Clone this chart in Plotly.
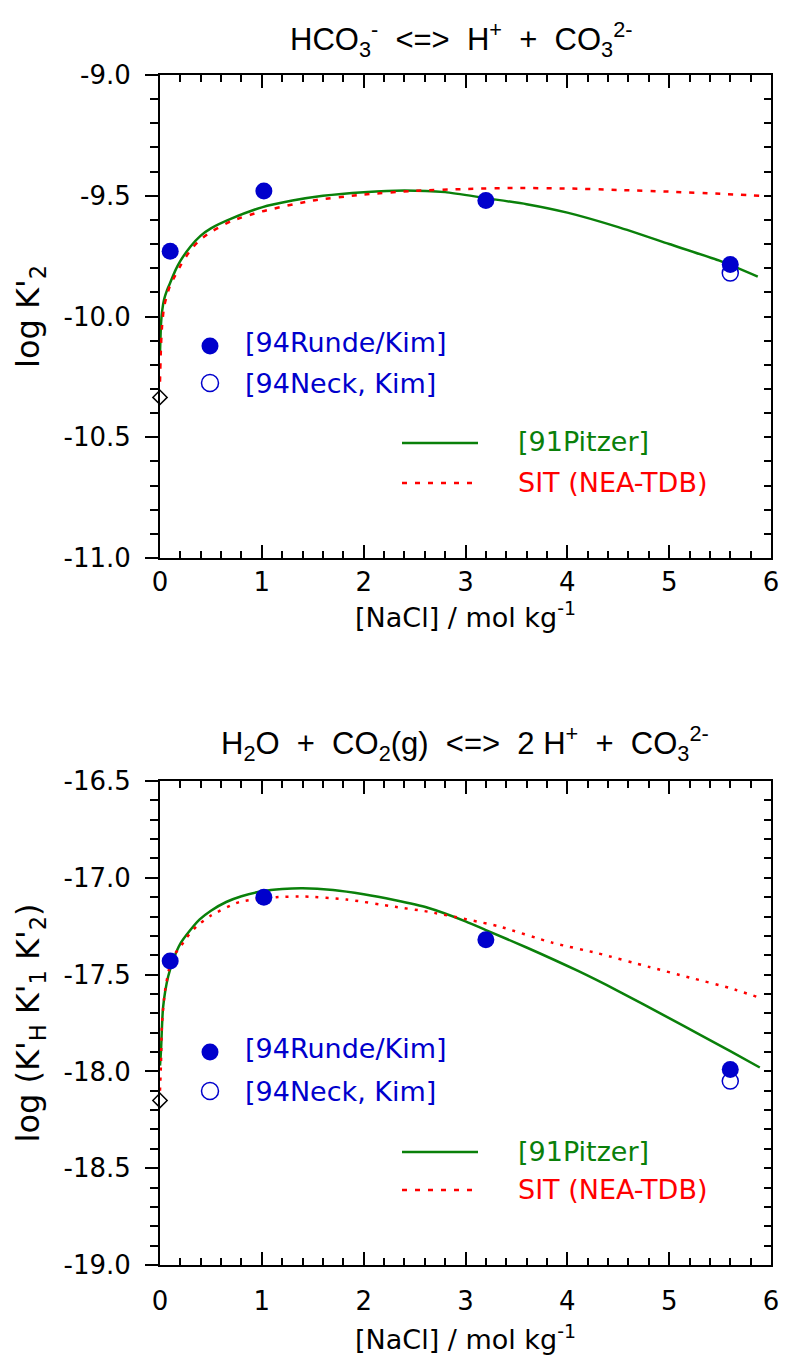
import plotly.graph_objects as go

W, H = 785, 1365

# ---------------- data : top panel  (log K'2) ----------------
nacl_runde = [0.10, 1.02, 3.20, 5.60]
logk2_runde = [-9.73, -9.48, -9.52, -9.785]
nacl_neck = [5.60]
logk2_neck = [-9.82]
nacl_zero = [0.0]
logk2_zero = [-10.335]

pitzer_top_x = [0.0, 0.01, 0.02, 0.04, 0.07, 0.1, 0.15, 0.2, 0.3, 0.4, 0.5, 0.7, 1.0, 1.3, 1.6,
                2.0, 2.4, 2.8, 3.2, 3.6, 4.0, 4.5, 5.0, 5.5, 5.87]
pitzer_top_y = [-10.15, -10.03, -9.98, -9.93, -9.89, -9.86, -9.81, -9.77, -9.71, -9.665, -9.635,
                -9.595, -9.548, -9.52, -9.50, -9.485, -9.478, -9.485, -9.51, -9.535, -9.57,
                -9.63, -9.70, -9.77, -9.835]
sit_top_x = [0.0, 0.01, 0.02, 0.04, 0.07, 0.1, 0.15, 0.2, 0.3, 0.4, 0.5, 0.7, 1.0, 1.5, 2.0,
             2.5, 3.0, 3.5, 4.0, 4.5, 5.0, 5.5, 5.9]
sit_top_y = [-10.27, -10.12, -10.04, -9.96, -9.91, -9.87, -9.83, -9.79, -9.725, -9.68, -9.65,
             -9.605, -9.565, -9.52, -9.495, -9.48, -9.472, -9.468, -9.47, -9.476, -9.483,
             -9.492, -9.50]

# ---------------- data : bottom panel  (log K'H K'1 K'2) ----------------
logkk_runde = [-17.43, -17.10, -17.32, -17.99]
logkk_neck = [-18.05]
logkk_zero = [-18.15]

pitzer_bot_x = [0.0, 0.01, 0.03, 0.08, 0.14, 0.2, 0.29, 0.39, 0.5, 0.65, 0.8, 1.0, 1.2, 1.4, 1.7,
                2.0, 2.3, 2.63, 3.0, 3.2, 3.6, 4.1, 4.5, 5.0, 5.3, 5.6, 5.89]
pitzer_bot_y = [-17.97, -17.89, -17.67, -17.51, -17.41, -17.34, -17.275, -17.215, -17.17, -17.125,
                -17.095, -17.07, -17.058, -17.054, -17.063, -17.085, -17.115, -17.155, -17.225,
                -17.27, -17.36, -17.48, -17.585, -17.725, -17.81, -17.895, -17.98]
sit_bot_x = [0.0, 0.01, 0.02, 0.05, 0.12, 0.19, 0.26, 0.36, 0.5, 0.78, 1.14, 1.42, 1.83, 2.31,
             2.63, 3.32, 3.85, 4.3, 4.8, 5.2, 5.6, 5.89]
sit_bot_y = [-18.10, -17.95, -17.75, -17.58, -17.41, -17.365, -17.31, -17.25, -17.195, -17.125,
             -17.10, -17.097, -17.112, -17.15, -17.175, -17.25, -17.335, -17.39, -17.46, -17.515,
             -17.57, -17.62]

# ---------------- ticks / labels ----------------
x_tickvals = [0, 1, 2, 3, 4, 5, 6]
x_ticktext = ["0", "1", "2", "3", "4", "5", "6"]
y_top_tickvals = [-11.0, -10.5, -10.0, -9.5, -9.0]
y_top_ticktext = ["-11.0", "-10.5", "-10.0", "-9.5", "-9.0"]
y_bot_tickvals = [-19.0, -18.5, -18.0, -17.5, -17.0, -16.5]
y_bot_ticktext = ["-19.0", "-18.5", "-18.0", "-17.5", "-17.0", "-16.5"]

title_top = "HCO<sub>3</sub><sup>-</sup>  &lt;=&gt;  H<sup>+</sup>  +  CO<sub>3</sub><sup>2-</sup>"
title_bot = ("H<sub>2</sub>O  +  CO<sub>2</sub>(g)  &lt;=&gt;  2 H<sup>+</sup>  +  "
             "CO<sub>3</sub><sup>2-</sup>")
ytitle_top = "log K'<sub>2</sub>"
ytitle_bot = "log (K'<sub>H</sub> K'<sub>1</sub> K'<sub>2</sub>)"
xtitle = "[NaCl] / mol kg<sup>-1</sup>"
leg_runde = "[94Runde/Kim]"
leg_neck = "[94Neck, Kim]"
leg_pitzer = "[91Pitzer]"
leg_sit = "SIT (NEA-TDB)"

BLUE = "#0000CC"
GREEN = "#0A800A"
RED = "#FF0000"
FONT = "DejaVu Sans"
TITLE_FONT = "Liberation Sans Narrow, Arial Narrow, Liberation Sans"


def px(x):
    return x / W


def py(y):
    return 1 - y / H


X0, X1 = 160, 771
TOP_Y0, TOP_Y1 = 75, 558
BOT_Y0, BOT_Y1 = 781, 1265

fig = go.Figure()


def add_panel(xa, ya, yr, pit_x, pit_y, sit_x, sit_y, sit_dash, run_y, neck_y, zero_y):
    fig.add_trace(go.Scatter(x=pit_x, y=pit_y, mode="lines",
                             line=dict(color=GREEN, width=2.5, shape="spline", smoothing=0.6),
                             xaxis=xa, yaxis=ya, showlegend=False, hoverinfo="skip"))
    fig.add_trace(go.Scatter(x=sit_x, y=sit_y, mode="lines",
                             line=dict(color=RED, width=2.5, dash=sit_dash, shape="spline", smoothing=0.6),
                             xaxis=xa, yaxis=ya, showlegend=False, hoverinfo="skip"))
    fig.add_trace(go.Scatter(x=nacl_runde, y=run_y, mode="markers",
                             marker=dict(color=BLUE, size=17, line=dict(width=0)),
                             xaxis=xa, yaxis=ya, showlegend=False))
    fig.add_trace(go.Scatter(x=nacl_neck, y=neck_y, mode="markers",
                             marker=dict(symbol="circle-open", color=BLUE, size=16, line=dict(width=1.5, color=BLUE)),
                             xaxis=xa, yaxis=ya, showlegend=False))
    fig.add_trace(go.Scatter(x=nacl_zero, y=zero_y, mode="markers", cliponaxis=False,
                             marker=dict(symbol="diamond", color="white", size=11, line=dict(width=1.5, color="black")),
                             xaxis=xa, yaxis=ya, showlegend=False))
    # empty trace that activates the right-hand (mirror) y axis
    fig.add_trace(go.Scatter(x=[], y=[], xaxis=xa, yaxis=yr, showlegend=False, hoverinfo="skip"))


add_panel("x", "y", "y3", pitzer_top_x, pitzer_top_y, sit_top_x, sit_top_y,
          "5px,8px", logk2_runde, logk2_neck, logk2_zero)
add_panel("x2", "y2", "y4", pitzer_bot_x, pitzer_bot_y, sit_bot_x, sit_bot_y,
          "3px,7px", logkk_runde, logkk_neck, logkk_zero)

tickfont = dict(family=FONT, size=26, color="black")
minor_x = dict(tickmode="linear", tick0=0, dtick=0.2, ticks="inside", ticklen=7, tickwidth=2, tickcolor="black")


def xaxis(anchor, standoff_lbl, title_standoff):
    return dict(domain=[px(X0), px(X1)], anchor=anchor, range=[0, 6], tickmode="array",
                tickvals=x_tickvals, ticktext=x_ticktext, ticks="inside", ticklen=13, tickwidth=2,
                tickcolor="black", minor=minor_x, showline=True, linewidth=2, linecolor="black",
                mirror="ticks", showgrid=False, zeroline=False, tickfont=tickfont, automargin=False,
                ticklabelstandoff=standoff_lbl,
                title=dict(text=xtitle, font=dict(family=FONT, size=27, color="black"), standoff=title_standoff))


def yaxis_left(anchor, dom, rng, tv, tt, ttl, tick0):
    return dict(domain=dom, anchor=anchor, range=rng, tickmode="array", tickvals=tv, ticktext=tt,
                ticks="outside", ticklen=13, tickwidth=2, tickcolor="black",
                minor=dict(tickmode="linear", tick0=tick0, dtick=0.1, ticks="outside", ticklen=8,
                           tickwidth=2, tickcolor="black"),
                showline=True, linewidth=2, linecolor="black", showgrid=False, zeroline=False,
                tickfont=tickfont, ticklabelstandoff=9, automargin=False,
                title=dict(text=ttl, font=dict(family=FONT, size=32, color="black"), standoff=14))


def yaxis_right(anchor, overlay, rng, tv, tick0):
    return dict(overlaying=overlay, anchor=anchor, side="right", range=rng, tickmode="array",
                tickvals=tv, ticktext=[""] * len(tv), showticklabels=False, automargin=False,
                ticks="inside", ticklen=13, tickwidth=2, tickcolor="black",
                minor=dict(tickmode="linear", tick0=tick0, dtick=0.1, ticks="inside", ticklen=7,
                           tickwidth=2, tickcolor="black"),
                showline=True, linewidth=2, linecolor="black", showgrid=False, zeroline=False)


top_dom = [py(TOP_Y1), py(TOP_Y0)]
bot_dom = [py(BOT_Y1), py(BOT_Y0)]

fig.update_layout(
    template="none",
    width=W, height=H, margin=dict(l=0, r=0, t=0, b=0, autoexpand=False),
    paper_bgcolor="white", plot_bgcolor="white", showlegend=False,
    xaxis=xaxis("y", 0, 0),
    xaxis2=xaxis("y2", 12, 15),
    yaxis=yaxis_left("x", top_dom, [-11, -9], y_top_tickvals, y_top_ticktext, ytitle_top, -11),
    yaxis2=yaxis_left("x2", bot_dom, [-19, -16.5], y_bot_tickvals, y_bot_ticktext, ytitle_bot, -19),
    yaxis3=yaxis_right("x", "y", [-11, -9], y_top_tickvals, -11),
    yaxis4=yaxis_right("x2", "y2", [-19, -16.5], y_bot_tickvals, -19),
)

annotations = []
shapes = []


def title_ann(text, xc, yc):
    annotations.append(dict(text=text, x=px(xc), y=py(yc), xref="paper", yref="paper",
                            xanchor="center", yanchor="middle", showarrow=False,
                            font=dict(family=TITLE_FONT, size=31, color="black")))


title_ann(title_top, 461, 39)
title_ann(title_bot, 465, 744)


def legend_block(y_fill, y_open, y_green, y_red):
    r = 8.5
    shapes.append(dict(type="circle", xref="paper", yref="paper", x0=px(210 - r), x1=px(210 + r),
                       y0=py(y_fill + r), y1=py(y_fill - r), fillcolor=BLUE, line=dict(width=0)))
    shapes.append(dict(type="circle", xref="paper", yref="paper", x0=px(210 - r), x1=px(210 + r),
                       y0=py(y_open + r), y1=py(y_open - r), fillcolor="rgba(0,0,0,0)",
                       line=dict(width=1.5, color=BLUE)))
    shapes.append(dict(type="line", xref="paper", yref="paper", x0=px(402), x1=px(478),
                       y0=py(y_green), y1=py(y_green), line=dict(color=GREEN, width=2.5)))
    shapes.append(dict(type="line", xref="paper", yref="paper", x0=px(402), x1=px(478),
                       y0=py(y_red), y1=py(y_red), line=dict(color=RED, width=2.5, dash="5px,8px")))
    for txt, x, y, col in [(leg_runde, 243, y_fill - 4, BLUE), (leg_neck, 243, y_open, BLUE),
                           (leg_pitzer, 516, y_green - 1, GREEN), (leg_sit, 516, y_red - 1, RED)]:
        annotations.append(dict(text=txt, x=px(x), y=py(y), xref="paper", yref="paper",
                                xanchor="left", yanchor="middle", showarrow=False,
                                font=dict(family=FONT, size=27, color=col)))


legend_block(346, 383, 443, 483)
legend_block(1052, 1091, 1152, 1190)

fig.update_layout(annotations=annotations, shapes=shapes)
fig.write_html("out.html", config={"displayModeBar": False},
               post_script="document.body.style.margin='0px';")
